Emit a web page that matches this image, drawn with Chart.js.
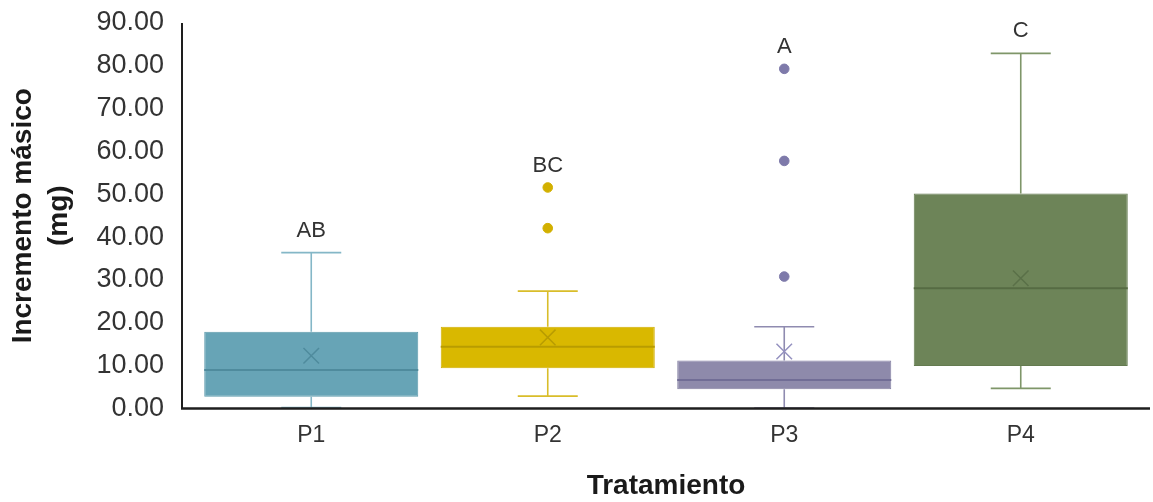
<!DOCTYPE html>
<html>
<head>
<meta charset="utf-8">
<script src="https://cdn.jsdelivr.net/npm/chart.js@4/dist/chart.umd.min.js"></script>
<style>
  html, body { margin: 0; padding: 0; background: #ffffff; }
  #wrap { width: 1153px; height: 502px; position: relative; }
</style>
</head>
<body>
<div id="wrap"><canvas id="c"></canvas></div>
<script>
// ---- data ----
const categories  = ['P1', 'P2', 'P3', 'P4'];
const whiskerLow  = [0.2, 2.9, 0.1, 4.7];
const q1          = [2.75, 9.4, 4.5, 9.9];
const medians     = [9.0, 14.4, 6.65, 28.1];
const q3          = [17.9, 19.1, 11.2, 50.2];
const whiskerHigh = [36.4, 27.4, 19.1, 82.9];
const means       = [12.3, 16.6, 13.3, 30.4];
const outliersP2  = [51.6, 42.1];
const outliersP3  = [79.3, 57.8, 30.8];
const letters     = ['AB', 'BC', 'A', 'C'];
const yTickValues = [0, 10, 20, 30, 40, 50, 60, 70, 80, 90];

// ---- styles ----
const fillColors    = ['#67a4b6', '#d9b800', '#8e8aab', '#6d8458'];
const borderColors  = ['#5d9aac', '#cfae00', '#8581a3', '#647b50'];
const medianColors  = ['#4f8b9d', '#b89c00', '#716d96', '#566b43'];
const whiskerColors = ['#84b7c7', '#d9bd2a', '#8f8bb0', '#7f9669'];
const meanColors    = ['#4f8b9d', '#b89c00', '#9592c0', '#5a7048'];
const FONT = '"Liberation Sans", Arial, sans-serif';

const boxData = categories.map((c, i) => [q1[i], q3[i]]);
const meanData = categories.map((c, i) => ({ x: c, y: means[i] }));
const outlierData = [
  ...outliersP2.map(v => ({ x: 'P2', y: v })),
  ...outliersP3.map(v => ({ x: 'P3', y: v }))
];
const outlierColors = [
  ...outliersP2.map(() => '#d2b000'),
  ...outliersP3.map(() => '#7e7aaa')
];

const boxPlugin = {
  id: 'boxExtras',
  afterDatasetDraw(chart, args) {
    if (args.index !== 0) return;
    const ctx = chart.ctx;
    const xs = chart.scales.x, ys = chart.scales.y;
    const meta = chart.getDatasetMeta(0);
    ctx.save();
    categories.forEach((c, i) => {
      const bar = meta.data[i];
      const half = bar.width / 2;
      const cx = xs.getPixelForValue(i);
      // median
      ctx.strokeStyle = medianColors[i];
      ctx.lineWidth = 2;
      const my = ys.getPixelForValue(medians[i]);
      ctx.beginPath(); ctx.moveTo(cx - half, my); ctx.lineTo(cx + half, my); ctx.stroke();
      // whiskers
      ctx.strokeStyle = whiskerColors[i];
      ctx.lineWidth = 1.6;
      const capHalf = 30;
      const yq1 = ys.getPixelForValue(q1[i]), yq3 = ys.getPixelForValue(q3[i]);
      const ylo = ys.getPixelForValue(whiskerLow[i]), yhi = ys.getPixelForValue(whiskerHigh[i]);
      ctx.beginPath();
      ctx.moveTo(cx, yq3); ctx.lineTo(cx, yhi);
      ctx.moveTo(cx - capHalf, yhi); ctx.lineTo(cx + capHalf, yhi);
      ctx.moveTo(cx, yq1); ctx.lineTo(cx, ylo);
      ctx.moveTo(cx - capHalf, ylo); ctx.lineTo(cx + capHalf, ylo);
      ctx.stroke();
    });
    ctx.restore();
  },
  afterDatasetsDraw(chart) {
    const ctx = chart.ctx;
    const xs = chart.scales.x, ys = chart.scales.y;
    const area = chart.chartArea;
    ctx.save();
    // significance letters above the highest mark of each group
    ctx.font = '22px ' + FONT;
    ctx.fillStyle = '#333333';
    ctx.textAlign = 'center';
    ctx.textBaseline = 'middle';
    const tops = [
      whiskerHigh[0],
      Math.max(whiskerHigh[1], ...outliersP2),
      Math.max(whiskerHigh[2], ...outliersP3),
      whiskerHigh[3]
    ];
    categories.forEach((c, i) => {
      ctx.fillText(letters[i], xs.getPixelForValue(i), ys.getPixelForValue(tops[i]) - 22);
    });
    // axis lines
    const axisX = area.left - 11;
    ctx.strokeStyle = '#1e1e1e';
    ctx.lineWidth = 2;
    ctx.beginPath();
    ctx.moveTo(axisX, area.top);
    ctx.lineTo(axisX, area.bottom);
    ctx.stroke();
    ctx.lineWidth = 2.5;
    ctx.beginPath();
    ctx.moveTo(axisX - 1, area.bottom);
    ctx.lineTo(chart.width - 3, area.bottom);
    ctx.stroke();
    ctx.restore();
  }
};

new Chart(document.getElementById('c'), {
  type: 'bar',
  data: {
    labels: categories,
    datasets: [
      {
        type: 'bar',
        label: 'caja',
        data: boxData,
        backgroundColor: fillColors,
        borderColor: borderColors,
        borderWidth: 1,
        borderSkipped: false,
        barPercentage: 0.905,
        categoryPercentage: 1.0,
        order: 3
      },
      {
        type: 'scatter',
        label: 'atípicos',
        data: outlierData,
        backgroundColor: outlierColors,
        borderColor: outlierColors,
        pointRadius: 4.8,
        pointStyle: 'circle',
        order: 1
      },
      {
        type: 'scatter',
        label: 'media',
        data: meanData,
        pointStyle: 'crossRot',
        pointRadius: 11,
        borderColor: meanColors,
        backgroundColor: meanColors,
        borderWidth: 1.5,
        order: 0
      }
    ]
  },
  options: {
    responsive: true,
    maintainAspectRatio: false,
    animation: false,
    events: [],
    layout: { padding: { top: 23, right: 14, left: 0, bottom: 0 } },
    plugins: {
      legend: { display: false },
      tooltip: { enabled: false }
    },
    scales: {
      x: {
        type: 'category',
        offset: true,
        grid: { display: false, drawTicks: false },
        border: { display: false },
        ticks: {
          color: '#333333',
          font: { family: FONT, size: 23 },
          padding: 13
        },
        title: {
          display: true,
          text: 'Tratamiento',
          color: '#1a1a1a',
          font: { family: FONT, size: 28, weight: 'bold', lineHeight: 1.15 },
          padding: { top: 0, bottom: 0 }
        },
        afterFit(scale) { scale.height = 93.5; }
      },
      y: {
        min: 0,
        max: 90,
        afterBuildTicks(scale) { scale.ticks = yTickValues.map(v => ({ value: v })); },
        grid: { display: false, drawTicks: false },
        border: { display: false },
        ticks: {
          color: '#333333',
          font: { family: FONT, size: 27 },
          padding: 29,
          callback: v => Number(v).toFixed(2)
        },
        title: {
          display: true,
          text: ['Incremento másico', '(mg)'],
          color: '#1a1a1a',
          font: { family: FONT, size: 28, weight: 'bold', lineHeight: 1.3 },
          padding: { top: 5, bottom: 0 }
        },
        afterFit(scale) {
          scale.width = 193;
          scale.paddingTop = 0;
          scale.paddingBottom = 0;
        }
      }
    }
  },
  plugins: [boxPlugin]
});
</script>
</body>
</html>
